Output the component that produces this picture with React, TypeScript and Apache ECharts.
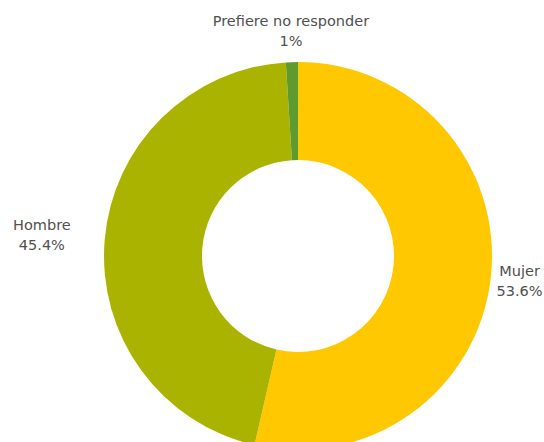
import React, { useEffect, useRef } from "react";
import * as echarts from "echarts";

const categories = ["Mujer", "Hombre", "Prefiere no responder"];
const values = [53.6, 45.4, 1];
const labelsPct = ["53.6%", "45.4%", "1%"];
const colors = ["#FFC800", "#AAB300", "#5F9A2E"];
const labelRadius = [223, 257, 225];

const CX = 298;
const CY = 256;

export default function App() {
  const ref = useRef<HTMLDivElement>(null);
  useEffect(() => {
    if (!ref.current) return;
    const chart = echarts.init(ref.current, null, { renderer: "svg" });
    const total = values.reduce((a, b) => a + b, 0);
    const mids: number[] = [];
    let acc = 0;
    values.forEach((v) => {
      const start = 90 - (acc / total) * 360;
      const end = 90 - ((acc + v) / total) * 360;
      mids.push(((start + end) / 2) * (Math.PI / 180));
      acc += v;
    });
    chart.setOption({
      animation: false,
      backgroundColor: "#ffffff",
      series: [
        {
          type: "pie",
          center: [CX, CY],
          radius: [96, 194],
          startAngle: 90,
          clockwise: true,
          avoidLabelOverlap: false,
          data: categories.map((c, i) => ({
            name: c,
            value: values[i],
            itemStyle: { color: colors[i] },
          })),
          label: {
            show: true,
            position: "outside",
            formatter: (p: any) => `${p.name}\n${labelsPct[p.dataIndex]}`,
            fontFamily: "DejaVu Sans",
            fontSize: 14.5,
            lineHeight: 20,
            color: "#505050",
            align: "center",
          },
          labelLine: { show: false },
          labelLayout: (p: any) => {
            const i = p.dataIndex;
            const a = mids[i];
            const d = labelRadius[i];
            return {
              x: CX + d * Math.cos(a),
              y: CY - d * Math.sin(a),
              align: "center",
              verticalAlign: "middle",
            };
          },
          emphasis: { disabled: true },
        },
      ],
    });
    return () => chart.dispose();
  }, []);
  return (
    <div
      ref={ref}
      style={{ position: "absolute", left: 0, top: 0, width: 544, height: 442 }}
    />
  );
}
